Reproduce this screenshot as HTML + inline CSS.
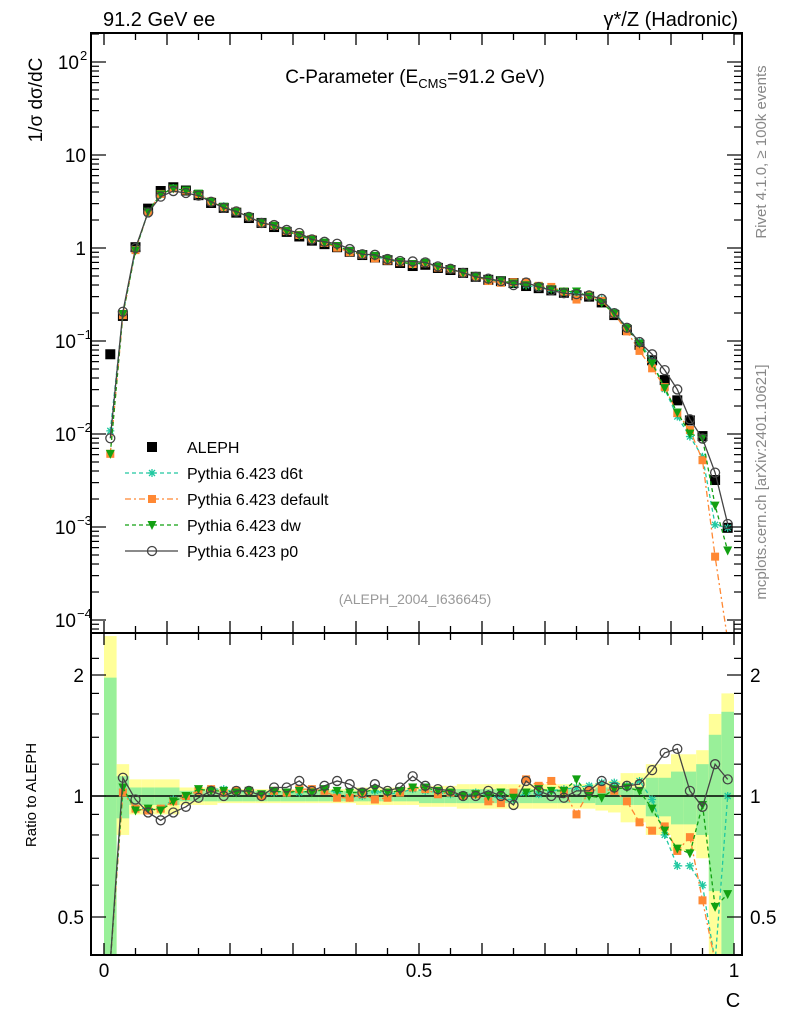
<!DOCTYPE html>
<html><head><meta charset="utf-8"><style>
html,body{margin:0;background:#fff;overflow:hidden;width:786px;height:1024px;}
svg{display:block;font-family:"Liberation Sans",sans-serif;}
</style></head><body>
<svg id="chart" width="786" height="1024" viewBox="0 0 786 1024">
<defs>
<clipPath id="cm"><rect x="91" y="33" width="651" height="600"/></clipPath>
<clipPath id="cr"><rect x="91" y="633" width="651" height="322"/></clipPath>
</defs>
<g id="bands" clip-path="url(#cr)"></g>
<g id="ratio" clip-path="url(#cr)"></g>
<g id="main" clip-path="url(#cm)"></g>
<g id="axes"></g>
<text x="103" y="26" font-size="20">91.2 GeV ee</text>
<text x="738" y="26" font-size="20" text-anchor="end">γ*/Z (Hadronic)</text>
<text x="415" y="83" font-size="19" text-anchor="middle">C-Parameter (E<tspan font-size="13" dy="5">CMS</tspan><tspan dy="-5">=91.2 GeV)</tspan></text>
<text x="415" y="604" font-size="14" fill="#999" text-anchor="middle">(ALEPH_2004_I636645)</text>
<text transform="translate(766,152) rotate(-90)" font-size="15" fill="#888" text-anchor="middle">Rivet 4.1.0, ≥ 100k events</text>
<text transform="translate(766,482) rotate(-90)" font-size="15" fill="#888" text-anchor="middle">mcplots.cern.ch [arXiv:2401.10621]</text>
<text transform="translate(42,100) rotate(-90)" font-size="19" text-anchor="middle">1/σ  dσ/dC</text>
<text transform="translate(36,795) rotate(-90)" font-size="15" text-anchor="middle">Ratio to ALEPH</text>
<text x="733" y="1007" font-size="20" text-anchor="middle">C</text>
<g id="legend"></g>
</svg>
<script>
const cats=[0.01,0.03,0.05,0.07,0.09,0.11,0.13,0.15,0.17,0.19,0.21,0.23,0.25,0.27,0.29,0.31,0.33,0.35,0.37,0.39,0.41,0.43,0.45,0.47,0.49,0.51,0.53,0.55,0.57,0.59,0.61,0.63,0.65,0.67,0.69,0.71,0.73,0.75,0.77,0.79,0.81,0.83,0.85,0.87,0.89,0.91,0.93,0.95,0.97,0.99];
const aleph=[0.072,0.186,1.02,2.65,4.1,4.5,4.15,3.7,3.05,2.7,2.4,2.1,1.86,1.68,1.49,1.33,1.2,1.1,1.02,0.91,0.84,0.79,0.74,0.69,0.64,0.66,0.61,0.58,0.54,0.49,0.455,0.44,0.42,0.39,0.37,0.35,0.33,0.31,0.30,0.26,0.19,0.131,0.091,0.062,0.038,0.023,0.014,0.0095,0.0032,0.00098];
const ratioP0=[0.125,1.11,0.98,0.91,0.87,0.91,0.94,0.99,1.03,1.0,1.03,1.03,1.0,1.05,1.05,1.09,1.03,1.06,1.09,1.07,1.02,1.07,1.03,1.05,1.12,1.06,1.04,1.03,1.0,1.0,1.03,1.0,0.95,1.09,1.03,1.0,0.99,1.03,1.03,1.09,1.05,1.06,1.07,1.16,1.28,1.31,1.03,0.94,1.2,1.1];
const ratioDef=[0.085,1.02,0.93,0.92,0.93,0.97,1.0,1.03,1.04,1.02,1.03,1.03,1.0,1.03,1.02,1.04,1.04,1.03,0.99,0.99,1.01,0.98,0.99,1.02,1.05,1.04,1.01,1.02,1.0,1.01,0.97,0.96,1.02,1.1,1.06,1.09,1.03,0.9,1.03,1.04,1.03,0.97,0.86,0.82,0.84,0.73,0.79,0.55,0.15,0.0];
const ratioDw=[0.085,1.05,0.92,0.93,0.92,0.97,1.0,1.04,1.03,1.03,1.02,1.03,1.01,1.03,1.02,1.03,1.02,1.04,1.03,1.02,1.02,1.04,1.02,1.03,1.05,1.05,1.03,1.02,1.0,1.01,1.0,1.02,0.99,1.02,1.04,1.03,1.03,1.1,1.0,0.99,1.04,1.05,1.03,0.93,0.82,0.74,0.72,0.95,0.53,0.57];
const ratioD6t=[0.15,1.04,0.93,0.93,0.93,0.98,1.0,1.03,1.04,1.04,1.02,1.03,1.0,1.02,1.02,1.02,1.03,1.04,1.02,0.99,1.0,1.03,1.01,1.02,1.04,1.03,1.02,1.01,1.0,1.02,1.01,0.98,0.98,1.02,1.01,1.03,1.04,1.05,1.06,1.08,1.08,1.06,1.09,0.98,0.8,0.67,0.67,0.6,0.33,1.0];
const errGreen=[0.97,0.12,0.05,0.05,0.05,0.05,0.03,0.03,0.03,0.03,0.03,0.03,0.03,0.03,0.03,0.03,0.03,0.03,0.03,0.03,0.03,0.03,0.03,0.03,0.03,0.04,0.04,0.04,0.04,0.04,0.04,0.04,0.04,0.04,0.04,0.04,0.04,0.04,0.04,0.05,0.05,0.05,0.05,0.11,0.11,0.15,0.15,0.2,0.42,0.62];
const errYellow=[1.5,0.2,0.1,0.1,0.1,0.1,0.05,0.05,0.05,0.04,0.04,0.04,0.04,0.04,0.04,0.04,0.04,0.04,0.04,0.04,0.05,0.05,0.05,0.05,0.05,0.06,0.06,0.06,0.07,0.07,0.07,0.07,0.07,0.07,0.07,0.07,0.07,0.07,0.07,0.08,0.09,0.14,0.14,0.2,0.2,0.27,0.27,0.3,0.6,0.8];
const xTicks=[0,0.5,1];const xTickLabels=["0","0.5","1"];
const rTicks=[2,1,0.5];const rTickLabels=["2","1","0.5"];
const NS="http://www.w3.org/2000/svg";
const xs=c=>104+630*c;
const ym=v=>248-93*Math.log10(v);
const yr=r=>796-121*Math.log2(r);
const clampM=y=>Math.min(640,Math.max(25,y));
const clampR=y=>Math.min(962,Math.max(625,y));
function mk(tag,attrs,parent){const e=document.createElementNS(NS,tag);for(const k in attrs)e.setAttribute(k,attrs[k]);parent.appendChild(e);return e;}
const gB=document.getElementById('bands'),gR=document.getElementById('ratio'),gM=document.getElementById('main'),gA=document.getElementById('axes'),gL=document.getElementById('legend');
cats.forEach((c,i)=>{
 const x0=xs(c-0.01),w=630*0.02;
 const ly=Math.max(0.3,1-errYellow[i]),hy=1+errYellow[i];
 const y1=clampR(yr(hy)),y2=clampR(yr(ly));
 const r1=mk('rect',{x:x0,y:y1,width:w,height:y2-y1,fill:'#ffff99'},gB);
 
 
 const lg=Math.max(0.3,1-errGreen[i]),hg=1+errGreen[i];
 const g1=clampR(yr(hg)),g2=clampR(yr(lg));
 const r2=mk('rect',{x:x0,y:g1,width:w,height:g2-g1,fill:'#99f099'},gB);
 
 
});
const unity=mk('line',{x1:91,x2:742,y1:yr(1),y2:yr(1),stroke:'#000','stroke-width':1.5},gB);


function marker(type,x,y,col,g){
 let e;
 if(type==='sq')e=mk('rect',{x:x-5,y:y-5,width:10,height:10,fill:col},g);
 else if(type==='osq')e=mk('rect',{x:x-4,y:y-4,width:8,height:8,fill:col},g);
 else if(type==='tri')e=mk('path',{d:`M${x-4.5},${y-4} L${x+4.5},${y-4} L${x},${y+5} Z`,fill:col},g);
 else if(type==='circ')e=mk('circle',{cx:x,cy:y,r:4.5,fill:'none',stroke:col,'stroke-width':1.3},g);
 else e=mk('path',{d:`M${x-4},${y} L${x+4},${y} M${x},${y-4} L${x},${y+4} M${x-3},${y-3} L${x+3},${y+3} M${x-3},${y+3} L${x+3},${y-3}`,stroke:col,'stroke-width':1.3},g);
 return e;
}
const series=[
 {name:'d6t',r:ratioD6t,col:'#20c8a0',dash:'4,3',m:'star'},
 {name:'default',r:ratioDef,col:'#ff8833',dash:'6,3,2,3',m:'osq'},
 {name:'dw',r:ratioDw,col:'#12a012',dash:'4,3',m:'tri'},
 {name:'p0',r:ratioP0,col:'#444',dash:'',m:'circ'}];
cats.forEach((c,i)=>{const e=marker('sq',xs(c),ym(aleph[i]),'#000',gM);
 
 });
series.forEach(s=>{
 const vals=cats.map((c,i)=>aleph[i]*s.r[i]);
 const ptsM=cats.map((c,i)=>[xs(c),vals[i]>0?clampM(ym(vals[i])):640]);
 const pl=mk('polyline',{points:ptsM.map(p=>p.join(',')).join(' '),fill:'none',stroke:s.col,'stroke-width':1.3,'stroke-dasharray':s.dash},gM);
 
 
 ptsM.forEach((p,i)=>{if(vals[i]>0&&p[1]<633){const e=marker(s.m,p[0],p[1],s.col,gM);
  
  }});
 const ptsR=cats.map((c,i)=>[xs(c),s.r[i]>0?clampR(yr(s.r[i])):962]);
 const rl=mk('polyline',{points:ptsR.map(p=>p.join(',')).join(' '),fill:'none',stroke:s.col,'stroke-width':1.3,'stroke-dasharray':s.dash},gR);
 
 
 ptsR.forEach((p,i)=>{if(s.r[i]>0&&p[1]<955&&p[1]>633){const e=marker(s.m,p[0],p[1],s.col,gR);
  
  }});
});
[[91,33,651,600],[91,633,651,322]].forEach((f,k)=>{const r=mk('rect',{x:f[0],y:f[1],width:f[2],height:f[3],fill:'none',stroke:'#000','stroke-width':2},gA);
 
 });
for(let k=0;k<=20;k++){const c=k*0.05,x=xs(c),L=(k%2===0)?12:7;
 [[633,-1],[955,-1],[633,1],[33,1]].forEach(([y,d])=>{const t=mk('line',{x1:x,x2:x,y1:y,y2:y+d*L,stroke:'#000','stroke-width':1.3},gA);
 
 });}
xTicks.forEach((c,i)=>{const t=mk('text',{x:xs(c),y:977,'font-size':19,'text-anchor':'middle'},gA);t.textContent=xTickLabels[i];
 
 });
for(let d=-5;d<=2;d++){for(let m=1;m<=9;m++){const v=m*Math.pow(10,d),y=ym(v);if(y<34||y>632)continue;const L=m===1?14:7;
 [[92,1],[741,-1]].forEach(([x,s])=>{const t=mk('line',{x1:x,x2:x+s*L,y1:y,y2:y,stroke:'#000','stroke-width':1.2},gA);
 
 });}}
const yLab=[[2,'10','2'],[1,'10',''],[0,'1',''],[-1,'10','−1'],[-2,'10','−2'],[-3,'10','−3'],[-4,'10','−4']];
yLab.forEach(([d,b,e])=>{const bx=e?(e.length>1?76:79):86;
 const t=mk('text',{x:bx,y:ym(Math.pow(10,d))+7,'font-size':19,'text-anchor':'end'},gA);t.textContent=b;
 
 
 if(e){const s=mk('text',{x:bx+1,y:ym(Math.pow(10,d))-2,'font-size':13,'text-anchor':'start'},gA);s.textContent=e;
 
 }});
[0.4,0.5,0.6,0.7,0.8,0.9,1,1.2,1.4,1.6,1.8,2,2.2].forEach(r=>{const y=yr(r);if(y<634||y>954)return;const L=[0.5,1,2].includes(r)?14:7;
 [[92,1],[741,-1]].forEach(([x,s])=>{const t=mk('line',{x1:x,x2:x+s*L,y1:y,y2:y,stroke:'#000','stroke-width':1.2},gA);
 
 });});
rTicks.forEach((r,i)=>{[[84,'end'],[750,'start']].forEach(([x,a])=>{const t=mk('text',{x:x,y:yr(r)+7,'font-size':19,'text-anchor':a},gA);t.textContent=rTickLabels[i];
 
 });});
const legNames=['ALEPH','Pythia 6.423 d6t','Pythia 6.423 default','Pythia 6.423 dw','Pythia 6.423 p0'];
legNames.forEach((n,i)=>{const y=447+26*i;
 if(i===0){const e=marker('sq',152,y,'#000',gL);}
 else{const s=series[i-1];const l=mk('line',{x1:125,x2:178,y1:y,y2:y,stroke:s.col,'stroke-width':1.3,'stroke-dasharray':s.dash},gL);
  
  
  const e=marker(s.m,152,y,s.col,gL);
  
  }
 const t=mk('text',{x:187,y:y+6,'font-size':16},gL);t.textContent=n;
 
 });
</script>
</body></html>
